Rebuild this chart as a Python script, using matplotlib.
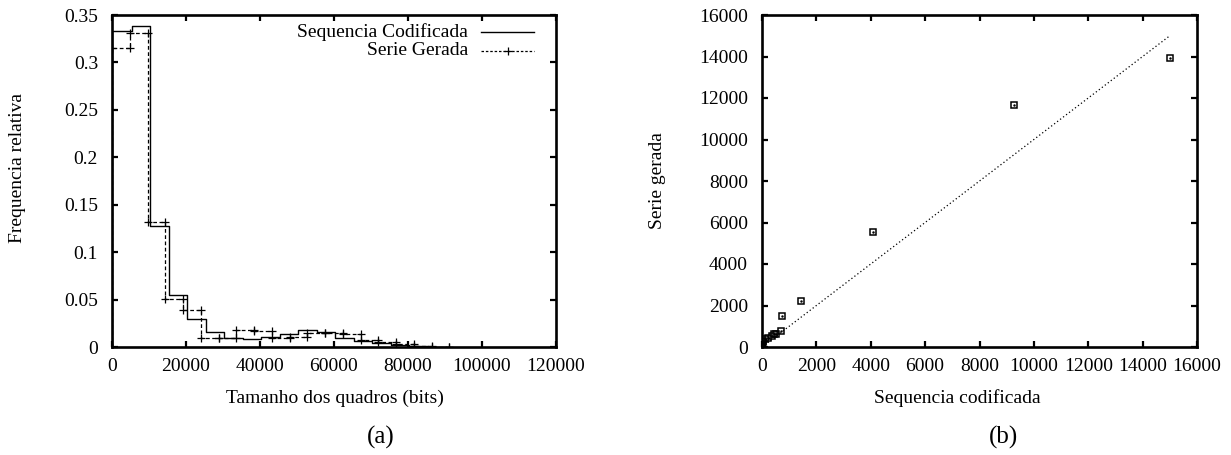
import matplotlib
matplotlib.use("Agg")
import matplotlib.pyplot as plt

plt.rcParams["font.family"] = ["Liberation Serif", "DejaVu Serif"]
plt.rcParams["font.size"] = 14

# (a) frequency histograms, bin edges and relative frequencies
coded_edges = [0, 5400, 10400, 15400, 20400, 25400, 30400, 35400, 40400, 45400,
               50400, 55400, 60400, 65400, 70400, 75400, 80400, 85400, 90400]
coded_freq = [0.333, 0.338, 0.128, 0.055, 0.029, 0.016, 0.0100, 0.0085, 0.011,
              0.0134, 0.018, 0.0155, 0.0100, 0.0060, 0.0040, 0.0025, 0.0012, 0.0005]
gen_edges = [0, 4800, 9600, 14400, 19200, 24000, 28800, 33600, 38400, 43200,
             48000, 52800, 57600, 62400, 67200, 72000, 76800, 81600, 86400, 91200]
gen_freq = [0.315, 0.331, 0.132, 0.051, 0.039, 0.0100, 0.0100, 0.0175, 0.017,
            0.0100, 0.011, 0.0145, 0.0145, 0.014, 0.0075, 0.0048, 0.0032, 0.0015, 0.0005]

# (b) quantile pairs: coded sequence vs generated series
qq_coded = [0, 5, 10, 20, 40, 100, 220, 370, 440, 530, 690, 740, 1425, 4090, 9280, 14990]
qq_gen = [0, 60, 130, 220, 300, 400, 450, 530, 610, 640, 770, 1480, 2200, 5530, 11660, 13940]
ref_line = [0, 14990]

W, H = 1231, 455


def step_path(edges, vals):
    xs, ys = [edges[0]], [0]
    for i, v in enumerate(vals):
        xs += [edges[i], edges[i + 1]]
        ys += [v, v]
    xs.append(edges[-1])
    ys.append(0)
    return xs, ys


def style_axes(ax):
    for s in ax.spines.values():
        s.set_linewidth(1.9)
    ax.tick_params(direction="in", top=True, right=True, length=4, width=1.6,
                   labelsize=14)
    ax.tick_params(axis="x", pad=8)
    ax.tick_params(axis="y", pad=10)


fig = plt.figure(figsize=(W / 100, H / 100), dpi=100)

ax1 = fig.add_axes([112 / W, 1 - 347 / H, (556 - 112) / W, (347 - 15) / H])
x, y = step_path(coded_edges, coded_freq)
ax1.plot(x, y, color="black", lw=1.0)
x, y = step_path(gen_edges, gen_freq)
ax1.plot(x, y, color="black", lw=0.9, ls=(0, (3, 2)), marker="+", ms=6, mew=0.9)
ax1.set_xlim(0, 120000)
ax1.set_ylim(0, 0.35)
ax1.set_xticks(range(0, 120001, 20000))
ax1.set_yticks([0, 0.05, 0.1, 0.15, 0.2, 0.25, 0.3, 0.35])
ax1.set_yticklabels(["0", "0.05", "0.1", "0.15", "0.2", "0.25", "0.3", "0.35"])
style_axes(ax1)

# legend in gnuplot style: right-aligned labels, sample line to the right
tr = ax1.transAxes
ax1.text(0.802, 0.95, "Sequencia Codificada", transform=tr, ha="right", va="center")
ax1.text(0.802, 0.893, "Serie Gerada", transform=tr, ha="right", va="center")
ax1.plot([0.832, 0.95], [0.95, 0.95], transform=tr, color="black", lw=1.0)
ax1.plot([0.832, 0.95], [0.893, 0.893], transform=tr, color="black", lw=0.9,
         ls=(0, (2, 1.5)))
ax1.plot([0.891], [0.893], transform=tr, color="black", marker="+", ms=6, mew=0.9)

ax2 = fig.add_axes([762 / W, 1 - 347 / H, (1197 - 762) / W, (347 - 15) / H])
ax2.plot(ref_line, ref_line, color="black", lw=0.9, ls=(0, (1, 2)))
ax2.plot(qq_coded, qq_gen, ls="none", marker="s", ms=4.5, mfc="none", mec="black",
         mew=1.1)
ax2.plot(qq_coded, qq_gen, ls="none", marker=".", ms=1.5, color="black")
ax2.set_xlim(0, 16000)
ax2.set_ylim(0, 16000)
ax2.set_xticks(range(0, 16001, 2000))
ax2.set_yticks(range(0, 16001, 2000))
style_axes(ax2)

fig.text(335 / W, 1 - 398 / H, "Tamanho dos quadros (bits)", ha="center", va="center")
fig.text(18 / W, 1 - 168 / H, "Frequencia relativa", rotation=90, ha="center", va="center")
fig.text(957 / W, 1 - 398 / H, "Sequencia codificada", ha="center", va="center")
fig.text(657 / W, 1 - 181 / H, "Serie gerada", rotation=90, ha="center", va="center")
fig.text(381 / W, 1 - 437 / H, "(a)", ha="center", va="center", fontsize=18)
fig.text(1003 / W, 1 - 437 / H, "(b)", ha="center", va="center", fontsize=18)

fig.savefig("out.png", dpi=100, facecolor="white")
